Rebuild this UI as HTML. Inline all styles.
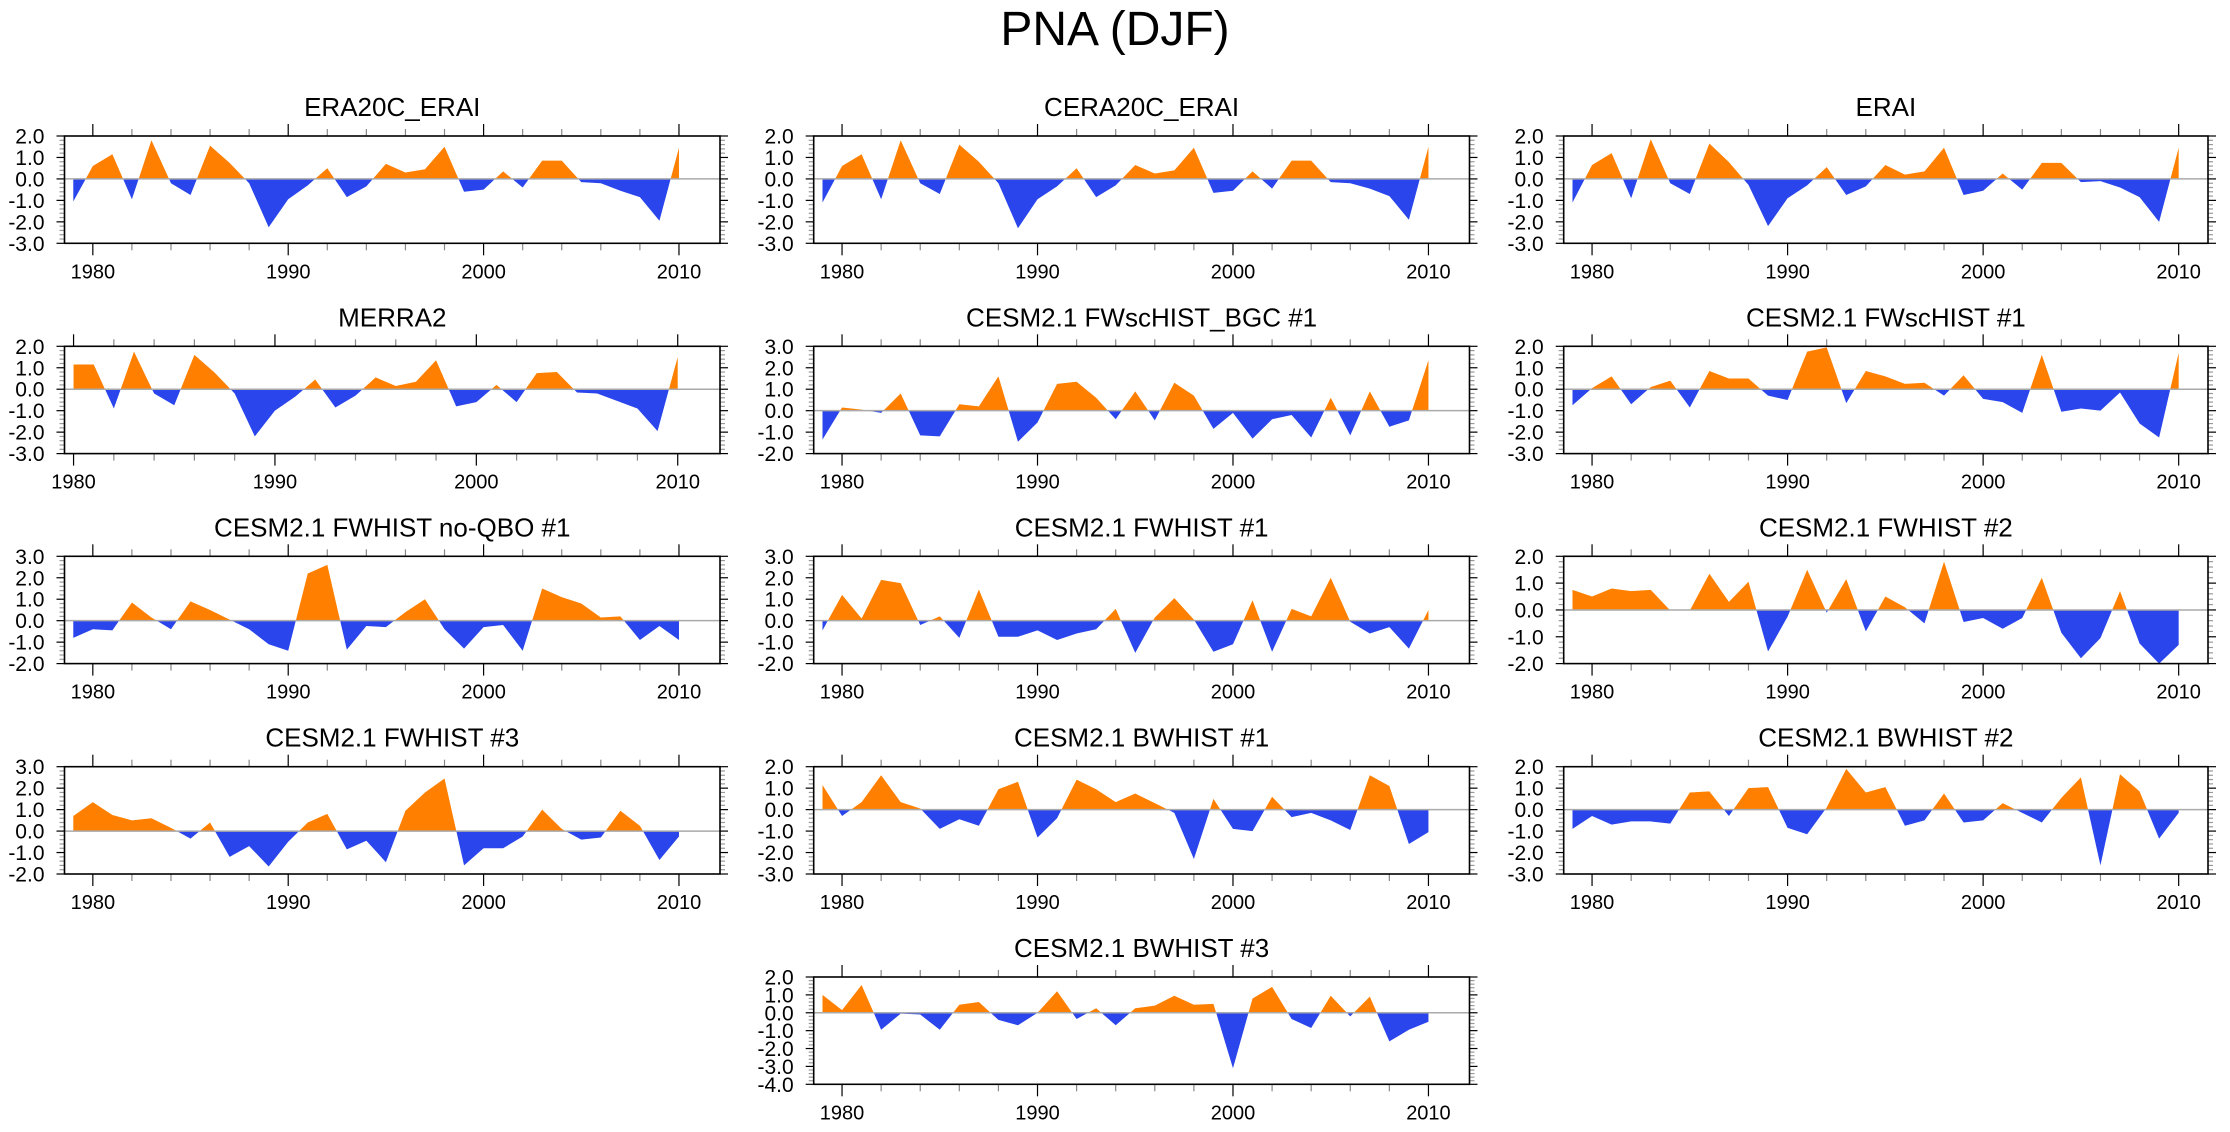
<!DOCTYPE html>
<html><head><meta charset="utf-8"><title>PNA (DJF)</title>
<style>
html,body{margin:0;padding:0;background:#fff;}
svg{display:block;font-family:"Liberation Sans",Arial,sans-serif;}
</style></head>
<body>
<svg id="fig" width="2230" height="1132" viewBox="0 0 2230 1132" xmlns="http://www.w3.org/2000/svg">
<defs id="defs"></defs>
<rect width="2230" height="1132" fill="#fff"/>
<text x="1115" y="45" font-size="48" text-anchor="middle" fill="#000">PNA (DJF)</text>
</svg>
<script>
// ---- data (categories = years, series = PNA index values) ----
const yearsFull = [1979,1980,1981,1982,1983,1984,1985,1986,1987,1988,1989,1990,1991,1992,1993,1994,1995,1996,1997,1998,1999,2000,2001,2002,2003,2004,2005,2006,2007,2008,2009,2010];
const yearsMerra = [1980,1981,1982,1983,1984,1985,1986,1987,1988,1989,1990,1991,1992,1993,1994,1995,1996,1997,1998,1999,2000,2001,2002,2003,2004,2005,2006,2007,2008,2009,2010];
const xTickLabels = [1980,1990,2000,2010];

const era20cErai = [-1.05,0.6,1.15,-0.95,1.8,-0.2,-0.75,1.55,0.75,-0.2,-2.25,-0.95,-0.3,0.5,-0.85,-0.35,0.7,0.3,0.45,1.5,-0.6,-0.5,0.35,-0.4,0.85,0.85,-0.15,-0.2,-0.55,-0.85,-1.95,1.45];
const cera20cErai = [-1.1,0.6,1.15,-0.95,1.8,-0.2,-0.7,1.6,0.8,-0.2,-2.3,-0.95,-0.35,0.5,-0.85,-0.3,0.65,0.25,0.4,1.45,-0.65,-0.55,0.35,-0.45,0.85,0.85,-0.15,-0.2,-0.45,-0.8,-1.9,1.5];
const erai = [-1.1,0.65,1.2,-0.9,1.85,-0.2,-0.7,1.65,0.78,-0.28,-2.2,-0.9,-0.3,0.55,-0.75,-0.35,0.65,0.2,0.35,1.45,-0.75,-0.55,0.25,-0.5,0.75,0.75,-0.15,-0.1,-0.4,-0.85,-2.0,1.45];
const merra2 = [1.15,1.15,-0.9,1.75,-0.2,-0.75,1.6,0.78,-0.2,-2.2,-1.0,-0.35,0.45,-0.85,-0.3,0.55,0.15,0.35,1.35,-0.8,-0.6,0.2,-0.6,0.75,0.8,-0.15,-0.2,-0.55,-0.9,-1.95,1.5];
const fwschistBgc1 = [-1.35,0.15,0.05,-0.1,0.8,-1.15,-1.2,0.3,0.2,1.6,-1.45,-0.55,1.25,1.35,0.6,-0.4,0.9,-0.45,1.3,0.7,-0.85,-0.1,-1.3,-0.4,-0.2,-1.25,0.6,-1.15,0.9,-0.75,-0.45,2.35];
const fwschist1 = [-0.75,0.05,0.6,-0.7,0.1,0.4,-0.85,0.85,0.5,0.5,-0.3,-0.5,1.75,1.95,-0.65,0.85,0.6,0.25,0.3,-0.3,0.65,-0.45,-0.6,-1.1,1.6,-1.05,-0.9,-1.0,-0.15,-1.6,-2.25,1.7];
const fwhistNoQbo1 = [-0.8,-0.4,-0.45,0.85,0.15,-0.4,0.9,0.5,0.05,-0.4,-1.1,-1.4,2.2,2.6,-1.35,-0.25,-0.3,0.4,1.0,-0.4,-1.3,-0.3,-0.2,-1.4,1.5,1.1,0.8,0.15,0.2,-0.9,-0.25,-0.9];
const fwhist1 = [-0.45,1.2,0.1,1.9,1.75,-0.2,0.2,-0.8,1.45,-0.75,-0.75,-0.45,-0.9,-0.6,-0.4,0.55,-1.5,0.15,1.05,0.05,-1.45,-1.1,0.95,-1.45,0.55,0.2,2.0,-0.05,-0.6,-0.3,-1.3,0.5];
const fwhist2 = [0.75,0.5,0.8,0.7,0.75,-0.02,-0.02,1.35,0.3,1.05,-1.55,-0.25,1.5,-0.1,1.15,-0.8,0.5,0.1,-0.5,1.8,-0.45,-0.3,-0.7,-0.3,1.2,-0.85,-1.8,-1.05,0.7,-1.25,-2.0,-1.3];
const fwhist3 = [0.7,1.35,0.75,0.5,0.6,0.15,-0.35,0.4,-1.2,-0.7,-1.65,-0.5,0.4,0.8,-0.85,-0.45,-1.45,0.95,1.8,2.45,-1.6,-0.8,-0.8,-0.25,1.0,0.1,-0.4,-0.3,0.95,0.25,-1.35,-0.25];
const bwhist1 = [1.15,-0.3,0.35,1.6,0.35,0.05,-0.9,-0.45,-0.75,0.95,1.3,-1.3,-0.4,1.4,0.95,0.35,0.75,0.3,-0.15,-2.3,0.5,-0.9,-1.0,0.6,-0.35,-0.15,-0.5,-0.95,1.6,1.1,-1.6,-1.05];
const bwhist2 = [-0.9,-0.3,-0.7,-0.55,-0.55,-0.65,0.8,0.85,-0.3,1.0,1.05,-0.85,-1.15,0.1,1.9,0.8,1.05,-0.75,-0.5,0.75,-0.6,-0.5,0.3,-0.15,-0.6,0.55,1.5,-2.6,1.65,0.85,-1.35,-0.15];
const bwhist3 = [1.0,0.15,1.55,-0.95,-0.05,-0.1,-0.95,0.45,0.6,-0.4,-0.7,0.0,1.2,-0.35,0.25,-0.7,0.25,0.4,0.95,0.45,0.5,-3.1,0.8,1.45,-0.35,-0.85,0.95,-0.2,0.9,-1.6,-0.95,-0.5];

// ---- layout ----
const NS = "http://www.w3.org/2000/svg";
const svg = document.getElementById('fig');
const defs = document.getElementById('defs');
const colL = [64.5, 813.7, 1563.7];
const colR = [720, 1469.5, 2208];
const colXmax = [2012.1, 2012.1, 2011.5];
const rowT = [136, 346.3, 556.3, 766.7, 977];
const frameH = 107.3;

const panels = [
  {name:'ERA20C_ERAI', slug:'era20c-erai', r:0, c:0, yr:yearsFull, v:era20cErai, ymin:-3, ymax:2},
  {name:'CERA20C_ERAI', slug:'cera20c-erai', r:0, c:1, yr:yearsFull, v:cera20cErai, ymin:-3, ymax:2},
  {name:'ERAI', slug:'erai', r:0, c:2, yr:yearsFull, v:erai, ymin:-3, ymax:2},
  {name:'MERRA2', slug:'merra2', r:1, c:0, yr:yearsMerra, v:merra2, ymin:-3, ymax:2},
  {name:'CESM2.1 FWscHIST_BGC #1', slug:'fwschist-bgc-1', r:1, c:1, yr:yearsFull, v:fwschistBgc1, ymin:-2, ymax:3},
  {name:'CESM2.1 FWscHIST #1', slug:'fwschist-1', r:1, c:2, yr:yearsFull, v:fwschist1, ymin:-3, ymax:2},
  {name:'CESM2.1 FWHIST no-QBO #1', slug:'fwhist-noqbo-1', r:2, c:0, yr:yearsFull, v:fwhistNoQbo1, ymin:-2, ymax:3},
  {name:'CESM2.1 FWHIST #1', slug:'fwhist-1', r:2, c:1, yr:yearsFull, v:fwhist1, ymin:-2, ymax:3},
  {name:'CESM2.1 FWHIST #2', slug:'fwhist-2', r:2, c:2, yr:yearsFull, v:fwhist2, ymin:-2, ymax:2},
  {name:'CESM2.1 FWHIST #3', slug:'fwhist-3', r:3, c:0, yr:yearsFull, v:fwhist3, ymin:-2, ymax:3},
  {name:'CESM2.1 BWHIST #1', slug:'bwhist-1', r:3, c:1, yr:yearsFull, v:bwhist1, ymin:-3, ymax:2},
  {name:'CESM2.1 BWHIST #2', slug:'bwhist-2', r:3, c:2, yr:yearsFull, v:bwhist2, ymin:-3, ymax:2},
  {name:'CESM2.1 BWHIST #3', slug:'bwhist-3', r:4, c:1, yr:yearsFull, v:bwhist3, ymin:-4, ymax:2}
];

function mk(tag, attrs, parent){
  const el = document.createElementNS(NS, tag);
  for (const k in attrs) el.setAttribute(k, attrs[k]);
  (parent||svg).appendChild(el);
  return el;
}

panels.forEach(function(p, idx){
  const L = colL[p.c], R = colR[p.c], T = rowT[p.r], B = T + frameH;
  const xmin = p.yr[0] - 0.45, xmax = colXmax[p.c];
  const xs = function(v){ return L + (v - xmin) / (xmax - xmin) * (R - L); };
  const ys = function(v){ return B - (v - p.ymin) / (p.ymax - p.ymin) * (B - T); };

  const g = mk('g', {});
  
  

  const t = mk('text', {x:(L+R)/2, y:T-20, 'font-size':26, 'text-anchor':'middle', fill:'#000'}, g);
  
  
  t.textContent = p.name;

  const y0 = ys(0);
  const cpA = mk('clipPath', {id:'ca'+idx}, defs);
  mk('rect', {x:L, y:T, width:R-L, height:y0-T}, cpA);
  const cpB = mk('clipPath', {id:'cb'+idx}, defs);
  mk('rect', {x:L, y:y0, width:R-L, height:B-y0}, cpB);

  let pts = xs(p.yr[0]).toFixed(2) + ',' + y0.toFixed(2);
  for (let i = 0; i < p.v.length; i++) pts += ' ' + xs(p.yr[i]).toFixed(2) + ',' + ys(p.v[i]).toFixed(2);
  pts += ' ' + xs(p.yr[p.yr.length-1]).toFixed(2) + ',' + y0.toFixed(2);
  const pa = mk('polygon', {points:pts, fill:'#ff8000', 'clip-path':'url(#ca'+idx+')'}, g);
  
  
  const pb = mk('polygon', {points:pts, fill:'#2a45ec', 'clip-path':'url(#cb'+idx+')'}, g);
  
  

  const zl = mk('line', {x1:L, x2:R, y1:y0, y2:y0, stroke:'#aaa', 'stroke-width':1.5}, g);
  
  

  for (let k = Math.round(p.ymin*5); k <= Math.round(p.ymax*5); k++) {
    const v = k/5, y = ys(v);
    const major = (k % 5 === 0);
    const len = major ? 8 : 5;
    const col = major ? '#000' : '#999';
    mk('line', {x1:L-len, x2:L, y1:y, y2:y, stroke:col, 'stroke-width':1.2}, g);
    mk('line', {x1:R, x2:R+len, y1:y, y2:y, stroke:col, 'stroke-width':1.2}, g);
    if (major) {
      const lab = mk('text', {x:L-20, y:y+7.5, 'font-size':21, 'text-anchor':'end', fill:'#000'}, g);
      
      
      lab.textContent = v.toFixed(1);
    }
  }
  for (let yr = 1980; yr <= 2010; yr += 2) {
    const x = xs(yr);
    const major = (yr % 10 === 0);
    const len = major ? 12 : 7;
    const col = major ? '#000' : '#888';
    mk('line', {x1:x, x2:x, y1:T-len, y2:T, stroke:col, 'stroke-width':1.2}, g);
    mk('line', {x1:x, x2:x, y1:B, y2:B+len, stroke:col, 'stroke-width':1.2}, g);
  }
  xTickLabels.forEach(function(yr){
    const lab = mk('text', {x:xs(yr), y:B+35, 'font-size':20, 'text-anchor':'middle', fill:'#000'}, g);
    
    
    lab.textContent = String(yr);
  });

  const fr = mk('rect', {x:L, y:T, width:R-L, height:B-T, fill:'none', stroke:'#000', 'stroke-width':1.6}, g);
  
  
});
</script>
</body></html>
